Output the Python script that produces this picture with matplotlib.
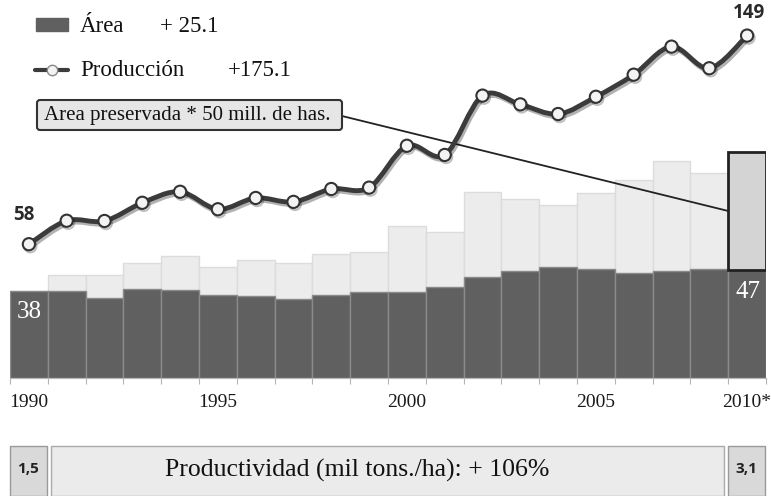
import numpy as np
import matplotlib
matplotlib.use("Agg")
import matplotlib.pyplot as plt
from matplotlib.path import Path
from matplotlib.patches import PathPatch, Rectangle, FancyBboxPatch, ConnectionPatch
import matplotlib.patheffects as pe

# Data
anios = list(range(1990, 2010))
tick_pos = [0, 5, 10, 15, 19]
tick_labels = ["1990", "1995", "2000", "2005", "2010*"]

area = [38, 38, 35, 38.7, 38.3, 36.3, 35.9, 34.5, 36.3, 37.7,
        37.5, 39.8, 44, 46.8, 48.5, 47.7, 45.9, 46.8, 47.5, 47]
total = [38, 44.9, 44.9, 50, 53.2, 48.4, 51.6, 50, 54.2, 54.8,
         66.2, 63.7, 81.1, 78, 75.3, 80.4, 86.2, 94.6, 89.1, 47]
preservada = 51.5
produccion = [58.3, 68.5, 68.4, 76.3, 81.1, 73.5, 78.4, 76.7, 82.3, 82.9,
              101.1, 97.1, 122.9, 119.1, 114.9, 122.4, 132, 144.2, 134.8, 149]

prod_ini, prod_fin = "1,5", "3,1"

SERIF = "Liberation Serif"
SANS = "Open Sans"
W, H = 771, 496

fig = plt.figure(figsize=(W / 100, H / 100), dpi=100)

# main chart axes (baseline at y=378 px, 2.3 px per unit)
ax = fig.add_axes([10 / W, (H - 378.3) / H, 756 / W, 378.3 / H])
ax.patch.set_visible(False)
x = np.arange(len(anios))

ax.bar(x, total, width=1.0, color="#ececec", edgecolor="#dcdcdc", linewidth=1, zorder=1)
ax.bar(x, area, width=1.0, color="#606060", edgecolor="#8a8a8a", linewidth=1, zorder=2)
ax.bar(x[-1], preservada, bottom=area[-1], width=1.0, color="#d4d4d4",
       edgecolor="#222222", linewidth=2, zorder=2.2)


# smooth production line
def smooth_path(xs, ys, t=1 / 6):
    pts = np.column_stack([xs, ys]).astype(float)
    verts = [pts[0]]
    codes = [Path.MOVETO]
    n = len(pts)
    for i in range(n - 1):
        p0 = pts[max(i - 1, 0)]
        p1 = pts[i]
        p2 = pts[i + 1]
        p3 = pts[min(i + 2, n - 1)]
        verts += [p1 + (p2 - p0) * t, p2 - (p3 - p1) * t, p2]
        codes += [Path.CURVE4] * 3
    return Path(verts, codes)


line = PathPatch(smooth_path(x, produccion), facecolor="none", edgecolor="#3b3b3b",
                 linewidth=3.5, zorder=3, capstyle="round", joinstyle="round",
                 path_effects=[pe.SimpleLineShadow(offset=(1.2, -1.8), shadow_color="k", alpha=0.3),
                               pe.Normal()])
ax.add_patch(line)
ax.plot(x, produccion, linestyle="none", marker="o", markersize=8.8,
        markerfacecolor="#f3f3f3", markeredgecolor="#333333", markeredgewidth=1.5, zorder=4,
        path_effects=[pe.SimpleLineShadow(offset=(1, -1.5), shadow_color="k", alpha=0.25), pe.Normal()])

ax.set_xlim(-0.5, len(anios) - 0.5)
ax.set_ylim(0, 378.3 / 2.3)

for s in ["top", "right", "left"]:
    ax.spines[s].set_visible(False)
ax.spines["bottom"].set_color("#b5b5b5")
ax.set_yticks([])
ax.set_xticks(np.arange(-0.5, len(anios), 1))
ax.set_xticklabels([])
ax.tick_params(axis="x", which="major", length=4, color="#b5b5b5")
ax.set_xticks(tick_pos, minor=True)
ax.set_xticklabels(tick_labels, minor=True, fontfamily=SERIF, fontsize=14, color="#1a1a1a")
ax.tick_params(axis="x", which="minor", length=0, pad=11)

# end labels
ax.annotate(f"{produccion[0]:.0f}", (x[0], produccion[0]), xytext=(-5, 29),
            textcoords="offset pixels", ha="center", va="center",
            fontfamily=SANS, fontweight="bold", fontsize=13.5, color="#2a2a2a")
ax.annotate(f"{produccion[-1]:.0f}", (x[-1], produccion[-1]), xytext=(2, 23),
            textcoords="offset pixels", ha="center", va="center",
            fontfamily=SANS, fontweight="bold", fontsize=13.5, color="#2a2a2a")
ax.annotate(f"{area[0]:.0f}", (x[0], area[0]), xytext=(0, -21),
            textcoords="offset pixels", ha="center", va="center",
            fontfamily=SERIF, fontsize=18, color="white", zorder=5)
ax.annotate(f"{area[-1]:.0f}", (x[-1], area[-1]), xytext=(1, -22),
            textcoords="offset pixels", ha="center", va="center",
            fontfamily=SERIF, fontsize=18, color="white", zorder=5)

# overlay in pixel coordinates for legend and notes
ov = fig.add_axes([0, 0, 1, 1])
ov.set_xlim(0, W)
ov.set_ylim(H, 0)
ov.axis("off")
ov.patch.set_visible(False)

ov.add_patch(Rectangle((36, 18), 32, 13, color="#606060"))
ov.text(80, 26, "Área", fontfamily=SERIF, fontsize=16.5, va="center", color="#111111")
ov.text(160, 26, "+ 25.1", fontfamily=SERIF, fontsize=16.5, va="center", color="#111111")
ov.plot([35, 68], [70, 70], color="#3b3b3b", linewidth=3, solid_capstyle="round")
ov.plot([52], [70], marker="o", markersize=7.5, markerfacecolor="#f3f3f3",
        markeredgecolor="#888888", markeredgewidth=1)
ov.text(80, 70, "Producción", fontfamily=SERIF, fontsize=16.5, va="center", color="#111111")
ov.text(228, 70, "+175.1", fontfamily=SERIF, fontsize=16.5, va="center", color="#111111")

ov.add_patch(FancyBboxPatch((37, 100), 305, 30, boxstyle="round,pad=0,rounding_size=3",
                            facecolor="#e6e6e6", edgecolor="#333333", linewidth=1.5))
ov.text(44, 115.5, "Area preservada * 50 mill. de has.", fontfamily=SERIF, fontsize=15,
        va="center", color="#111111")

con = ConnectionPatch(xyA=(342, 116), coordsA=ov.transData,
                      xyB=(x[-1] - 0.5, area[-1] + preservada / 2), coordsB=ax.transData,
                      color="#222222", linewidth=1.3, zorder=2.5)
ax.add_artist(con)

# productivity strip
ov.add_patch(Rectangle((10, 446), 36.7, 50, facecolor="#d9d9d9", edgecolor="#9a9a9a", linewidth=1))
ov.add_patch(Rectangle((50.7, 446), 673.3, 50, facecolor="#ebebeb", edgecolor="#aaaaaa", linewidth=1))
ov.add_patch(Rectangle((728.3, 446), 36.7, 50, facecolor="#d9d9d9", edgecolor="#9a9a9a", linewidth=1))
ov.text(28.3, 469, prod_ini, fontfamily=SANS, fontweight="bold", fontsize=11,
        ha="center", va="center", color="#222222")
ov.text(746.6, 469, prod_fin, fontfamily=SANS, fontweight="bold", fontsize=11,
        ha="center", va="center", color="#222222")
ov.text(357, 470, "Productividad (mil tons./ha): + 106%", fontfamily=SERIF, fontsize=18.5,
        ha="center", va="center", color="#111111")

fig.savefig("out.png", dpi=100)
